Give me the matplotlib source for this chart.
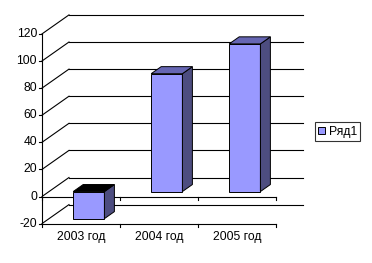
import numpy as np
import matplotlib.pyplot as plt
from matplotlib.patches import Polygon, Patch

# data
categories = ["2003 год", "2004 год", "2005 год"]
values = [-20, 87, 109]
series_name = "Ряд1"
yticks = [-20, 0, 20, 40, 60, 80, 100, 120]

plt.rcParams['font.family'] = ['Liberation Sans', 'DejaVu Sans']

W, H = 372, 263
fig = plt.figure(figsize=(W / 100, H / 100), dpi=100)
# front plane of the 3d box, in pixels
x_left, x_right = 42, 276
y_top, y_bot = 33.9, 223.6
ax = fig.add_axes([x_left / W, (H - y_bot) / H, (x_right - x_left) / W, (y_bot - y_top) / H])
ax.set_xlim(0, 3)
ax.set_ylim(-20, 120)
ax.axis('off')

# depth offset (oblique projection) in data units
DX = 27 / 78
DY = 19 / 1.355
px_y = 1 / 1.355

def proj(x, y, d):
    return (x + d * DX, y + d * DY)

fs = 8.7
lw = 0.8
# back wall gridlines and left wall diagonals
for v in yticks:
    ax.plot([DX, 3 + DX], [v + DY, v + DY], color='black', lw=lw, clip_on=False, zorder=1)
    ax.plot([0, DX], [v, v + DY], color='black', lw=lw, clip_on=False, zorder=1)
    ax.plot([0, -3 / 78], [v, v], color='black', lw=lw, clip_on=False, zorder=1)
    ax.text(-5 / 78, v, str(v), ha='right', va='center', fontsize=fs, color='black')

# value axis
ax.plot([0, 0], [-20, 120], color='black', lw=lw, clip_on=False, zorder=1)

# front floor edge at -20 and category axis at 0
for base in [-20, 0]:
    ax.plot([0, 3], [base, base], color='black', lw=lw, clip_on=False, zorder=1)
    for k in range(4):
        ax.plot([k, k], [base, base - 3 * px_y], color='black', lw=lw, clip_on=False, zorder=1)

for i, c in enumerate(categories):
    ax.text(i + 0.5, -20 - 13.5 * px_y, c, ha='center', va='center', fontsize=fs)

# bars
front_col = '#9999FF'
side_col = '#4D4D80'
top_col = '#6666B3'
b0, b1 = 0.31, 0.71
d0, d1 = 0.26, 0.63
for i, v in enumerate(values):
    lo, hi = min(0, v), max(0, v)
    x0, x1 = i + b0, i + b1
    front = [proj(x0, lo, d0), proj(x1, lo, d0), proj(x1, hi, d0), proj(x0, hi, d0)]
    side = [proj(x1, lo, d0), proj(x1, lo, d1), proj(x1, hi, d1), proj(x1, hi, d0)]
    top = [proj(x0, hi, d0), proj(x1, hi, d0), proj(x1, hi, d1), proj(x0, hi, d1)]
    tc = top_col if v >= 0 else '#000000'
    for pts, col in [(front, front_col), (side, side_col), (top, tc)]:
        ax.add_patch(Polygon(pts, closed=True, facecolor=col, edgecolor='black',
                             lw=0.7, clip_on=False, zorder=3))

# legend
leg = fig.legend(handles=[Patch(facecolor=front_col, edgecolor='black', lw=0.7, label=series_name)],
                 loc='center', bbox_to_anchor=(337.5 / W, 1 - 131.5 / H), fontsize=fs,
                 frameon=True, fancybox=False, edgecolor='black', handlelength=0.55,
                 handleheight=0.55, handletextpad=0.3, borderpad=0.3, borderaxespad=0)
leg.get_frame().set_linewidth(0.8)

fig.savefig('out.png', dpi=100)
